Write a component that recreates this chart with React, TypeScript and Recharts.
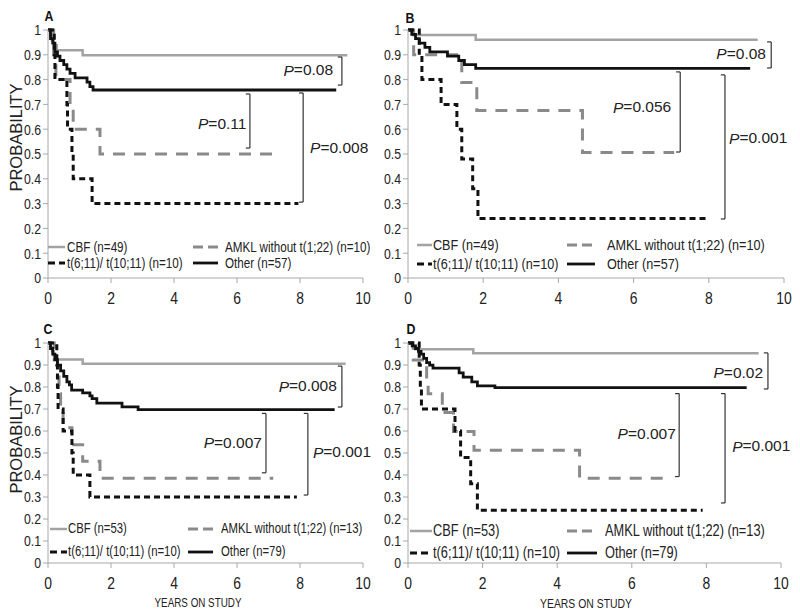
import React from 'react';
import { Legend, Line, LineChart, ReferenceDot, ReferenceLine, XAxis, YAxis } from 'recharts';

type Pt = { t: number; s: number };
type Key = 'cbf' | 'amkl' | 't611' | 'other';
type Bracket = { x: number; top: number; bottom: number; p: string; lx: number; ly: number; anchor: 'start' | 'end' };

const SANS = "'Liberation Sans', Arial, sans-serif";
const SQUEEZE = 0.82; // Arial Narrow look, no narrow face installed
const AXIS = '#a8a8a8';
const INK = '#222';

const X_TICKS = [0, 2, 4, 6, 8, 10];
const Y_TICKS = [0, 0.1, 0.2, 0.3, 0.4, 0.5, 0.6, 0.7, 0.8, 0.9, 1];

const NAMES_TOP: Record<Key, string> = {
  cbf: 'CBF (n=49)',
  amkl: 'AMKL without t(1;22) (n=10)',
  t611: 't(6;11)/ t(10;11) (n=10)',
  other: 'Other (n=57)',
};
const NAMES_BOTTOM: Record<Key, string> = {
  cbf: 'CBF (n=53)',
  amkl: 'AMKL without t(1;22) (n=13)',
  t611: 't(6;11)/ t(10;11) (n=10)',
  other: 'Other (n=79)',
};

// panel A
const A_CBF: Pt[] = [
  { t: 0, s: 1 }, { t: 0.08, s: 0.98 }, { t: 0.12, s: 0.959 }, { t: 0.18, s: 0.939 },
  { t: 0.28, s: 0.918 }, { t: 1.1, s: 0.898 }, { t: 9.5, s: 0.898 },
];
const A_OTHER: Pt[] = [
  { t: 0, s: 1 }, { t: 0.08, s: 0.965 }, { t: 0.15, s: 0.947 }, { t: 0.22, s: 0.912 },
  { t: 0.3, s: 0.895 }, { t: 0.38, s: 0.877 }, { t: 0.5, s: 0.86 }, { t: 0.6, s: 0.842 },
  { t: 0.7, s: 0.825 }, { t: 0.86, s: 0.807 }, { t: 1.24, s: 0.79 }, { t: 1.33, s: 0.772 },
  { t: 1.43, s: 0.758 }, { t: 9.15, s: 0.758 },
];
const A_AMKL: Pt[] = [
  { t: 0, s: 1 }, { t: 0.18, s: 0.9 }, { t: 0.25, s: 0.8 }, { t: 0.7, s: 0.7 },
  { t: 0.8, s: 0.6 }, { t: 1.65, s: 0.5 }, { t: 7.15, s: 0.5 },
];
const A_T611: Pt[] = [
  { t: 0, s: 1 }, { t: 0.2, s: 0.9 }, { t: 0.22, s: 0.8 }, { t: 0.6, s: 0.7 }, { t: 0.62, s: 0.6 },
  { t: 0.76, s: 0.5 }, { t: 0.8, s: 0.4 }, { t: 1.4, s: 0.3 }, { t: 7.95, s: 0.3 },
];
const A_BRACKETS: Bracket[] = [
  { x: 9.33, top: 0.891, bottom: 0.778, p: '0.08', lx: 9.05, ly: 0.839, anchor: 'end' },
  { x: 6.41, top: 0.742, bottom: 0.524, p: '0.11', lx: 6.3, ly: 0.625, anchor: 'end' },
  { x: 8.1, top: 0.746, bottom: 0.306, p: '0.008', lx: 8.32, ly: 0.528, anchor: 'start' },
];

// panel B
const B_CBF: Pt[] = [{ t: 0, s: 1 }, { t: 0.15, s: 0.98 }, { t: 1.8, s: 0.961 }, { t: 9.3, s: 0.961 }];
const B_OTHER: Pt[] = [
  { t: 0, s: 1 }, { t: 0.1, s: 0.982 }, { t: 0.2, s: 0.965 }, { t: 0.3, s: 0.947 },
  { t: 0.45, s: 0.93 }, { t: 0.58, s: 0.912 }, { t: 1.05, s: 0.895 }, { t: 1.35, s: 0.877 },
  { t: 1.5, s: 0.86 }, { t: 1.8, s: 0.845 }, { t: 9.1, s: 0.845 },
];
const B_AMKL: Pt[] = [
  { t: 0, s: 1 }, { t: 0.15, s: 0.9 }, { t: 1.43, s: 0.788 }, { t: 1.83, s: 0.675 },
  { t: 4.64, s: 0.506 }, { t: 7.08, s: 0.506 },
];
const B_T611: Pt[] = [
  { t: 0, s: 1 }, { t: 0.3, s: 0.9 }, { t: 0.37, s: 0.8 }, { t: 0.88, s: 0.7 }, { t: 1.3, s: 0.6 },
  { t: 1.43, s: 0.48 }, { t: 1.72, s: 0.36 }, { t: 1.86, s: 0.24 }, { t: 7.95, s: 0.24 },
];
const B_BRACKETS: Bracket[] = [
  { x: 9.66, top: 0.952, bottom: 0.847, p: '0.08', lx: 9.52, ly: 0.907, anchor: 'end' },
  { x: 7.24, top: 0.831, bottom: 0.508, p: '0.056', lx: 7.0, ly: 0.69, anchor: 'end' },
  { x: 8.43, top: 0.819, bottom: 0.238, p: '0.001', lx: 8.54, ly: 0.565, anchor: 'start' },
];

// panel C
const C_CBF: Pt[] = [
  { t: 0, s: 1 }, { t: 0.08, s: 0.981 }, { t: 0.13, s: 0.962 }, { t: 0.18, s: 0.943 },
  { t: 0.25, s: 0.925 }, { t: 1.1, s: 0.906 }, { t: 9.45, s: 0.906 },
];
const C_OTHER: Pt[] = [
  { t: 0, s: 1 }, { t: 0.08, s: 0.975 }, { t: 0.15, s: 0.949 }, { t: 0.22, s: 0.924 },
  { t: 0.3, s: 0.899 }, { t: 0.4, s: 0.873 }, { t: 0.5, s: 0.848 }, { t: 0.6, s: 0.823 },
  { t: 0.68, s: 0.81 }, { t: 0.75, s: 0.786 }, { t: 1.1, s: 0.773 }, { t: 1.33, s: 0.76 },
  { t: 1.4, s: 0.747 }, { t: 1.55, s: 0.727 }, { t: 2.35, s: 0.71 }, { t: 2.86, s: 0.697 },
  { t: 9.1, s: 0.697 },
];
const C_AMKL: Pt[] = [
  { t: 0, s: 1 }, { t: 0.2, s: 0.923 }, { t: 0.3, s: 0.846 }, { t: 0.35, s: 0.769 },
  { t: 0.4, s: 0.692 }, { t: 0.48, s: 0.615 }, { t: 0.76, s: 0.538 }, { t: 1.1, s: 0.462 },
  { t: 1.65, s: 0.385 }, { t: 7.15, s: 0.385 },
];
const C_T611: Pt[] = [
  { t: 0, s: 1 }, { t: 0.28, s: 0.9 }, { t: 0.3, s: 0.8 }, { t: 0.32, s: 0.7 }, { t: 0.48, s: 0.6 },
  { t: 0.76, s: 0.5 }, { t: 0.8, s: 0.4 }, { t: 1.33, s: 0.3 }, { t: 7.9, s: 0.3 },
];
const C_BRACKETS: Bracket[] = [
  { x: 9.33, top: 0.895, bottom: 0.709, p: '0.008', lx: 9.17, ly: 0.805, anchor: 'end' },
  { x: 6.92, top: 0.68, bottom: 0.41, p: '0.007', lx: 6.79, ly: 0.55, anchor: 'end' },
  { x: 8.25, top: 0.68, bottom: 0.309, p: '0.001', lx: 8.41, ly: 0.505, anchor: 'start' },
];

// panel D
const D_CBF: Pt[] = [{ t: 0, s: 1 }, { t: 0.1, s: 0.986 }, { t: 0.2, s: 0.972 }, { t: 1.75, s: 0.953 }, { t: 9.4, s: 0.953 }];
const D_OTHER: Pt[] = [
  { t: 0, s: 1 }, { t: 0.12, s: 0.987 }, { t: 0.2, s: 0.975 }, { t: 0.28, s: 0.962 },
  { t: 0.35, s: 0.949 }, { t: 0.42, s: 0.93 }, { t: 0.5, s: 0.911 }, { t: 0.58, s: 0.899 },
  { t: 0.67, s: 0.886 }, { t: 1.37, s: 0.864 }, { t: 1.48, s: 0.845 }, { t: 1.71, s: 0.823 },
  { t: 1.86, s: 0.805 }, { t: 2.33, s: 0.797 }, { t: 9.08, s: 0.797 },
];
const D_AMKL: Pt[] = [
  { t: 0, s: 1 }, { t: 0.14, s: 0.923 }, { t: 0.5, s: 0.846 }, { t: 0.54, s: 0.769 },
  { t: 0.92, s: 0.684 }, { t: 1.22, s: 0.598 }, { t: 1.77, s: 0.513 }, { t: 4.6, s: 0.385 },
  { t: 7.07, s: 0.385 },
];
const D_T611: Pt[] = [
  { t: 0, s: 1 }, { t: 0.3, s: 0.9 }, { t: 0.33, s: 0.8 }, { t: 0.36, s: 0.7 }, { t: 1.26, s: 0.6 },
  { t: 1.41, s: 0.48 }, { t: 1.68, s: 0.36 }, { t: 1.86, s: 0.24 }, { t: 7.9, s: 0.24 },
];
const D_BRACKETS: Bracket[] = [
  { x: 9.65, top: 0.955, bottom: 0.791, p: '0.02', lx: 9.52, ly: 0.868, anchor: 'end' },
  { x: 7.27, top: 0.77, bottom: 0.393, p: '0.007', lx: 7.18, ly: 0.59, anchor: 'end' },
  { x: 8.5, top: 0.77, bottom: 0.273, p: '0.001', lx: 8.69, ly: 0.532, anchor: 'start' },
];

const STYLE: Record<Key, { stroke: string; width: number; dash?: string; legendDash?: string }> = {
  cbf: { stroke: '#a3a3a3', width: 2.5 },
  amkl: { stroke: '#8a8a8a', width: 3, dash: '12 9', legendDash: '10 5' },
  t611: { stroke: '#111', width: 3, dash: '6 4', legendDash: '7 4' },
  other: { stroke: '#111', width: 2.8 },
};
const DRAW_ORDER: Key[] = ['cbf', 'amkl', 'other', 't611'];
const LEGEND_ORDER: Key[] = ['cbf', 'amkl', 't611', 'other'];

const XTick = (props: any) => (
  <text
    transform={`translate(${props.x},${props.y}) scale(${SQUEEZE},1)`}
    textAnchor="middle"
    dy="0.8em"
    fill={INK}
    fontSize={17}
    fontFamily={SANS}
  >
    {props.payload.value}
  </text>
);

const YTick = (props: any) => (
  <text
    transform={`translate(${props.x},${props.y}) scale(${SQUEEZE},1)`}
    textAnchor="end"
    dy="0.36em"
    fill={INK}
    fontSize={15}
    fontFamily={SANS}
  >
    {props.payload.value}
  </text>
);

type LegendCfg = {
  left: number; top: number; rowGap: number; col2: number;
  sw1: number; sw2: number; gap1: number; gap2: number; fontSize: number;
};

const LegendBox = ({ cfg, names }: { cfg: LegendCfg; names: Record<Key, string> }) => (
  <div style={{ position: 'relative', width: 340, height: cfg.rowGap + 16, fontFamily: SANS, fontSize: cfg.fontSize, color: INK }}>
    {LEGEND_ORDER.map((k, i) => {
      const col = i % 2;
      const row = Math.floor(i / 2);
      const sw = col ? cfg.sw2 : cfg.sw1;
      const st = STYLE[k];
      return (
        <div
          key={k}
          style={{
            position: 'absolute', left: col ? cfg.col2 : 0, top: row * cfg.rowGap, height: 16,
            display: 'flex', alignItems: 'center', whiteSpace: 'nowrap', lineHeight: '16px',
          }}
        >
          <svg width={sw} height={6} style={{ display: 'block', flex: 'none' }}>
            <line x1={0} y1={3} x2={sw} y2={3} stroke={st.stroke} strokeWidth={st.width} strokeDasharray={st.legendDash} />
          </svg>
          <span
            style={{
              marginLeft: col ? cfg.gap2 : cfg.gap1, display: 'inline-block',
              transform: `scaleX(${SQUEEZE})`, transformOrigin: 'left center',
            }}
          >
            {names[k]}
          </span>
        </div>
      );
    })}
  </div>
);

type PanelCfg = {
  left: number; top: number; width: number; height: number;
  margin: { top: number; right: number; left: number; bottom: number };
  xAxisHeight: number;
  series: Record<Key, Pt[]>;
  names: Record<Key, string>;
  brackets: Bracket[];
  arm: number;
  legend: LegendCfg;
  yTitleDy?: number;
  xTitle?: { dx: number; size: number };
};

const Panel = ({ cfg }: { cfg: PanelCfg }) => (
  <div style={{ position: 'absolute', left: cfg.left, top: cfg.top }}>
    <LineChart width={cfg.width} height={cfg.height} margin={cfg.margin}>
      <XAxis
        type="number"
        dataKey="t"
        domain={[0, 10]}
        ticks={X_TICKS}
        interval={0}
        height={cfg.xAxisHeight}
        axisLine={{ stroke: AXIS }}
        tickLine={{ stroke: AXIS }}
        tickSize={5}
        tickMargin={7}
        tick={XTick}
        label={
          cfg.xTitle
            ? {
                content: (p: any) => {
                  const x = p.viewBox.x + p.viewBox.width / 2 + cfg.xTitle!.dx;
                  const y = p.viewBox.y + 40;
                  return (
                    <text
                      transform={`translate(${x},${y}) scale(${SQUEEZE},1)`}
                      textAnchor="middle"
                      dy="0.36em"
                      fill={INK}
                      fontSize={cfg.xTitle!.size}
                      fontFamily={SANS}
                    >
                      YEARS ON STUDY
                    </text>
                  );
                },
              }
            : undefined
        }
      />
      <YAxis
        type="number"
        domain={[0, 1]}
        ticks={Y_TICKS}
        interval={0}
        width={40}
        axisLine={{ stroke: AXIS }}
        tickLine={{ stroke: AXIS }}
        tickSize={5}
        tickMargin={2}
        tick={YTick}
        label={
          cfg.yTitleDy !== undefined
            ? {
                content: (p: any) => {
                  const x = p.viewBox.x + 8;
                  const y = p.viewBox.y + p.viewBox.height / 2 + cfg.yTitleDy!;
                  return (
                    <text
                      x={x}
                      y={y}
                      transform={`rotate(-90, ${x}, ${y})`}
                      textAnchor="middle"
                      dominantBaseline="central"
                      fill={INK}
                      fontSize={16.5}
                      fontFamily={SANS}
                    >
                      PROBABILITY
                    </text>
                  );
                },
              }
            : undefined
        }
      />
      {DRAW_ORDER.map((k) => (
        <Line
          key={k}
          data={cfg.series[k]}
          dataKey="s"
          type="stepAfter"
          stroke={STYLE[k].stroke}
          strokeWidth={STYLE[k].width}
          strokeDasharray={STYLE[k].dash}
          strokeLinejoin="miter"
          dot={false}
          activeDot={false}
          isAnimationActive={false}
        />
      ))}
      {cfg.brackets.map((b, i) => [
        <ReferenceLine key={`v${i}`} segment={[{ x: b.x, y: b.top }, { x: b.x, y: b.bottom }]} stroke="#333" strokeWidth={1.2} />,
        <ReferenceLine key={`t${i}`} segment={[{ x: b.x - cfg.arm, y: b.top }, { x: b.x, y: b.top }]} stroke="#333" strokeWidth={1.2} />,
        <ReferenceLine key={`b${i}`} segment={[{ x: b.x - cfg.arm, y: b.bottom }, { x: b.x, y: b.bottom }]} stroke="#333" strokeWidth={1.2} />,
        <ReferenceDot
          key={`p${i}`}
          x={b.lx}
          y={b.ly}
          r={0}
          shape={(p: any) => (
            <text x={p.cx} y={p.cy} textAnchor={b.anchor} dominantBaseline="central" fill={INK} fontSize={15.5} fontFamily={SANS}>
              <tspan fontStyle="italic">P</tspan>={b.p}
            </text>
          )}
        />,
      ])}
      <Legend
        layout="horizontal"
        align="center"
        verticalAlign="middle"
        wrapperStyle={{ left: cfg.legend.left, top: cfg.legend.top, width: 340 }}
        content={() => <LegendBox cfg={cfg.legend} names={cfg.names} />}
      />
    </LineChart>
  </div>
);

const PANELS: PanelCfg[] = [
  {
    left: 0, top: 0, width: 400, height: 310,
    margin: { top: 30, right: 37, left: 8, bottom: 0 }, xAxisHeight: 32,
    series: { cbf: A_CBF, amkl: A_AMKL, t611: A_T611, other: A_OTHER },
    names: NAMES_TOP, brackets: A_BRACKETS, arm: 0.13,
    legend: { left: 48, top: 239, rowGap: 16, col2: 145, sw1: 17, sw2: 25, gap1: 2, gap2: 7, fontSize: 14.2 },
    yTitleDy: -16.5,
  },
  {
    left: 360, top: 0, width: 440, height: 310,
    margin: { top: 30, right: 16, left: 8, bottom: 0 }, xAxisHeight: 32,
    series: { cbf: B_CBF, amkl: B_AMKL, t611: B_T611, other: B_OTHER },
    names: NAMES_TOP, brackets: B_BRACKETS, arm: 0.11,
    legend: { left: 57, top: 237, rowGap: 19, col2: 150, sw1: 15, sw2: 28, gap1: 1, gap2: 12, fontSize: 15.4 },
  },
  {
    left: 0, top: 310, width: 400, height: 306,
    margin: { top: 33, right: 37, left: 8, bottom: 0 }, xAxisHeight: 53,
    series: { cbf: C_CBF, amkl: C_AMKL, t611: C_T611, other: C_OTHER },
    names: NAMES_BOTTOM, brackets: C_BRACKETS, arm: 0.13,
    legend: { left: 50, top: 211, rowGap: 23, col2: 138, sw1: 17, sw2: 25, gap1: 1, gap2: 8, fontSize: 13.8 },
    yTitleDy: -13.5,
    xTitle: { dx: -7.5, size: 12 },
  },
  {
    left: 360, top: 310, width: 440, height: 306,
    margin: { top: 33, right: 19, left: 8, bottom: 0 }, xAxisHeight: 53,
    series: { cbf: D_CBF, amkl: D_AMKL, t611: D_T611, other: D_OTHER },
    names: NAMES_BOTTOM, brackets: D_BRACKETS, arm: 0.11,
    legend: { left: 50, top: 213, rowGap: 22, col2: 157, sw1: 22, sw2: 30, gap1: 1, gap2: 8, fontSize: 15.6 },
    xTitle: { dx: -8.5, size: 12.7 },
  },
];

const LETTERS = [
  { text: 'A', x: 49, y: 15 },
  { text: 'B', x: 410, y: 17 },
  { text: 'C', x: 48, y: 328 },
  { text: 'D', x: 411, y: 328 },
];

export default function App() {
  return (
    <div style={{ position: 'absolute', left: 0, top: 0, width: 800, height: 616, background: '#fff', overflow: 'hidden' }}>
      {PANELS.map((p, i) => (
        <Panel key={i} cfg={p} />
      ))}
      {LETTERS.map((l) => (
        <div
          key={l.text}
          style={{
            position: 'absolute', left: l.x, top: l.y, transform: `translate(-50%, -50%) scaleX(${SQUEEZE})`,
            fontFamily: SANS, fontWeight: 'bold', fontSize: 15, color: '#111', lineHeight: 1,
          }}
        >
          {l.text}
        </div>
      ))}
    </div>
  );
}
